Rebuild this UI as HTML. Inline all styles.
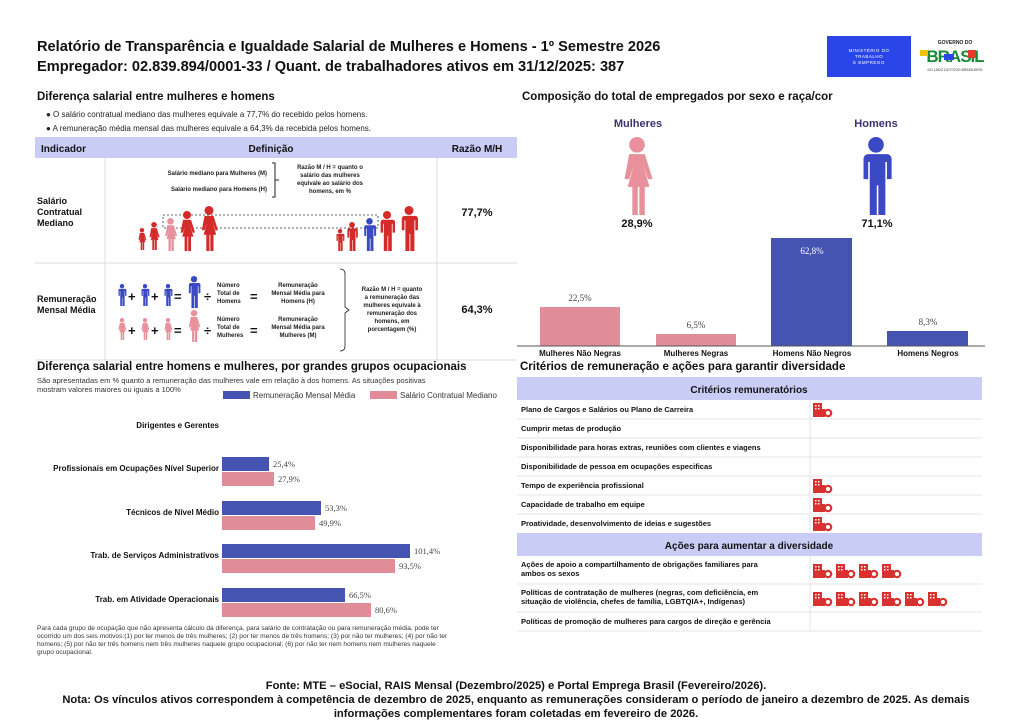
<!DOCTYPE html>
<html><head><meta charset="utf-8"><style>
html,body{margin:0;padding:0;background:#fff}
svg{display:block;font-family:"Liberation Sans",Arial,sans-serif}
</style></head><body>
<svg width="1024" height="724" viewBox="0 0 1024 724" xmlns="http://www.w3.org/2000/svg">
<defs>
<symbol id="man" viewBox="0 0 20 50"><circle cx="10" cy="5" r="5"/><path d="M3,11 h14 a3,3 0 0 1 3,3 v13 h-3 v-11 h-1 v34 h-4.5 v-19 h-1 v19 h-4.5 v-34 h-1 v11 h-3 v-13 a3,3 0 0 1 3,-3z"/></symbol>
<symbol id="woman" viewBox="0 0 20 50"><circle cx="10" cy="5" r="5"/><path d="M5,11 h10 l5,16 h-3 l-3,-9 l4,14 h-3 v18 h-3.5 v-18 h-1 v18 h-3.5 v-18 h-3 l4,-14 l-3,9 h-3z"/></symbol>
<g id="ico"><rect x="0" y="0" width="9" height="14" fill="#d93030"/><rect x="2" y="2" width="1.5" height="1.5" fill="#fff"/><rect x="5" y="2" width="1.5" height="1.5" fill="#fff"/><rect x="2" y="5" width="1.5" height="1.5" fill="#fff"/><rect x="5" y="5" width="1.5" height="1.5" fill="#fff"/><rect x="9" y="6" width="3" height="8" fill="#d93030"/><circle cx="15" cy="10" r="3.2" fill="none" stroke="#d93030" stroke-width="2.2"/></g>
</defs>
<!-- header -->
<text x="37" y="51" font-size="14.6" font-weight="bold" fill="#111">Relatório de Transparência e Igualdade Salarial de Mulheres e Homens - 1º Semestre 2026</text>
<text x="37" y="71" font-size="14.6" font-weight="bold" fill="#111">Empregador: 02.839.894/0001-33 / Quant. de trabalhadores ativos em 31/12/2025: 387</text>
<rect x="827" y="36" width="84" height="41" fill="#2a46e8"/>
<text x="869" y="52" font-size="4.5" fill="#fff" text-anchor="middle" letter-spacing="0.5">MINISTÉRIO DO</text>
<text x="869" y="58" font-size="4.5" fill="#fff" text-anchor="middle" letter-spacing="0.5">TRABALHO</text>
<text x="869" y="64" font-size="4.5" fill="#fff" text-anchor="middle" letter-spacing="0.5">E EMPREGO</text>
<text x="955" y="44" font-size="5" font-weight="bold" fill="#222" text-anchor="middle">GOVERNO DO</text>
<text x="955" y="62" font-size="17" font-weight="bold" fill="#1a8a3a" text-anchor="middle" letter-spacing="-1">BRASIL</text>
<rect x="920" y="50" width="8" height="6" fill="#f2c200"/><rect x="944" y="54" width="10" height="6" fill="#2a46e8"/><rect x="968" y="50" width="8" height="8" fill="#e63a2a"/>
<text x="955" y="71" font-size="3.5" fill="#333" text-anchor="middle">DO LADO DO POVO BRASILEIRO</text>

<!-- left top -->
<text x="37" y="100" font-size="11.5" font-weight="bold" fill="#111">Diferença salarial entre mulheres e homens</text>
<text x="46" y="117" font-size="8" fill="#222">● O salário contratual mediano das mulheres equivale a 77,7% do recebido pelos homens.</text>
<text x="46" y="131" font-size="8" fill="#222">● A remuneração média mensal das mulheres equivale a 64,3% da recebida pelos homens.</text>
<rect x="35" y="137" width="482" height="21" fill="#c9cdf6"/>
<text x="41" y="152" font-size="10" font-weight="bold" fill="#111">Indicador</text>
<text x="271" y="152" font-size="10" font-weight="bold" fill="#111" text-anchor="middle">Definição</text>
<text x="477" y="152" font-size="10" font-weight="bold" fill="#111" text-anchor="middle">Razão M/H</text>
<g stroke="#ddd" stroke-width="1"><line x1="35" y1="263" x2="517" y2="263"/><line x1="35" y1="360" x2="517" y2="360"/><line x1="105" y1="158" x2="105" y2="360"/><line x1="437" y1="158" x2="437" y2="360"/></g>
<text font-size="9" font-weight="bold" fill="#111"><tspan x="37" y="204">Salário</tspan><tspan x="37" y="215">Contratual</tspan><tspan x="37" y="226">Mediano</tspan></text>
<text font-size="9" font-weight="bold" fill="#111"><tspan x="37" y="302">Remuneração</tspan><tspan x="37" y="313">Mensal Média</tspan></text>
<text x="477" y="216" font-size="11" font-weight="bold" fill="#111" text-anchor="middle">77,7%</text>
<text x="477" y="313" font-size="11" font-weight="bold" fill="#111" text-anchor="middle">64,3%</text>
<text font-size="6" font-weight="bold" fill="#222" text-anchor="end"><tspan x="267" y="175">Salário mediano para Mulheres (M)</tspan><tspan x="267" y="191">Salário mediano para Homens (H)</tspan></text>
<path d="M272,163 h3 v34 h-3 M275,180 h4" stroke="#222" fill="none" stroke-width="1"/>
<text font-size="6" font-weight="bold" fill="#222" text-anchor="middle"><tspan x="330" y="169">Razão M / H = quanto o</tspan><tspan x="330" y="177">salário das mulheres</tspan><tspan x="330" y="185">equivale ao salário dos</tspan><tspan x="330" y="193">homens, em %</tspan></text>
<rect x="163" y="215" width="215" height="13" fill="none" stroke="#333" stroke-dasharray="2,2" stroke-width="0.8"/>
<use href="#woman" x="137" y="228" width="10" height="22" fill="#d42a2a"/>
<use href="#woman" x="148" y="222" width="12" height="28" fill="#d42a2a"/>
<use href="#woman" x="163" y="218" width="15" height="33" fill="#e8909c"/>
<use href="#woman" x="178" y="211" width="18" height="40" fill="#d42a2a"/>
<use href="#woman" x="198" y="206" width="22" height="45" fill="#d42a2a"/>
<use href="#man" x="335" y="229" width="10" height="22" fill="#d42a2a"/>
<use href="#man" x="346" y="222" width="12" height="29" fill="#d42a2a"/>
<use href="#man" x="362" y="218" width="15" height="33" fill="#3b49c4"/>
<use href="#man" x="378" y="211" width="18" height="40" fill="#d42a2a"/>
<use href="#man" x="398" y="206" width="22" height="45" fill="#d42a2a"/>
<!-- row2 -->
<g fill="#3b49c4"><use href="#man" x="117" y="284" width="10" height="22"/><use href="#man" x="140" y="284" width="10" height="22"/><use href="#man" x="163" y="284" width="10" height="22"/><use href="#man" x="186" y="276" width="16" height="32"/></g>
<g fill="#e8909c"><use href="#woman" x="117" y="318" width="10" height="22"/><use href="#woman" x="140" y="318" width="10" height="22"/><use href="#woman" x="163" y="318" width="10" height="22"/><use href="#woman" x="186" y="310" width="16" height="32"/></g>
<g font-size="13" font-weight="bold" fill="#111"><text x="128" y="301">+</text><text x="151" y="301">+</text><text x="174" y="301">=</text><text x="128" y="335">+</text><text x="151" y="335">+</text><text x="174" y="335">=</text><text x="204" y="301">÷</text><text x="204" y="335">÷</text><text x="250" y="301">=</text><text x="250" y="335">=</text></g>
<text font-size="6" font-weight="bold" fill="#222"><tspan x="217" y="287">Número</tspan><tspan x="217" y="295">Total de</tspan><tspan x="217" y="303">Homens</tspan><tspan x="217" y="321">Número</tspan><tspan x="217" y="329">Total de</tspan><tspan x="217" y="337">Mulheres</tspan></text>
<text font-size="6" font-weight="bold" fill="#222" text-anchor="middle"><tspan x="298" y="287">Remuneração</tspan><tspan x="298" y="295">Mensal Média para</tspan><tspan x="298" y="303">Homens (H)</tspan><tspan x="298" y="321">Remuneração</tspan><tspan x="298" y="329">Mensal Média para</tspan><tspan x="298" y="337">Mulheres (M)</tspan></text>
<path d="M340,269 q5,0 5,5 v33 l4,3 l-4,3 v33 q0,5 -5,5" stroke="#222" fill="none" stroke-width="0.8"/>
<text font-size="6" font-weight="bold" fill="#222" text-anchor="middle"><tspan x="392" y="291">Razão M / H = quanto</tspan><tspan x="392" y="299">a remuneração das</tspan><tspan x="392" y="307">mulheres equivale à</tspan><tspan x="392" y="315">remuneração dos</tspan><tspan x="392" y="323">homens, em</tspan><tspan x="392" y="331">porcentagem (%)</tspan></text>

<!-- right top -->
<text x="522" y="100" font-size="11.5" font-weight="bold" fill="#111">Composição do total de empregados por sexo e raça/cor</text>
<text x="638" y="127" font-size="11" font-weight="bold" fill="#3a3270" text-anchor="middle">Mulheres</text>
<text x="876" y="127" font-size="11" font-weight="bold" fill="#3a3270" text-anchor="middle">Homens</text>
<use href="#woman" x="614" y="137" width="46" height="78" fill="#e8909c"/>
<use href="#man" x="853" y="137" width="46" height="78" fill="#3b49c4"/>
<text x="637" y="227" font-size="11" font-weight="bold" fill="#111" text-anchor="middle">28,9%</text>
<text x="877" y="227" font-size="11" font-weight="bold" fill="#111" text-anchor="middle">71,1%</text>
<rect x="540" y="307" width="80" height="39" fill="#e08c99"/>
<rect x="656" y="334" width="80" height="12" fill="#e08c99"/>
<rect x="771" y="238" width="81" height="108" fill="#4554b0"/>
<rect x="887" y="331" width="81" height="15" fill="#4554b0"/>
<line x1="517" y1="346" x2="985" y2="346" stroke="#555" stroke-width="1"/>
<g font-family="Liberation Serif,serif" font-size="9" fill="#444" text-anchor="middle"><text x="580" y="301">22,5%</text><text x="696" y="328">6,5%</text><text x="812" y="254" fill="#fff">62,8%</text><text x="928" y="325">8,3%</text></g>
<g font-size="8" font-weight="bold" fill="#111" text-anchor="middle"><text x="580" y="356">Mulheres Não Negras</text><text x="696" y="356">Mulheres Negras</text><text x="812" y="356">Homens Não Negros</text><text x="928" y="356">Homens Negros</text></g>

<!-- left bottom -->
<text x="37" y="370" font-size="11.5" font-weight="bold" fill="#111">Diferença salarial entre homens e mulheres, por grandes grupos ocupacionais</text>
<text font-size="7.5" fill="#333"><tspan x="37" y="383">São apresentadas em % quanto a remuneração das mulheres vale em relação à dos homens. As situações positivas</tspan><tspan x="37" y="392">mostram valores maiores ou iguais a 100%</tspan></text>
<rect x="223" y="391" width="27" height="8" fill="#4554b0"/><text x="253" y="398" font-size="8" fill="#333">Remuneração Mensal Média</text>
<rect x="370" y="391" width="27" height="8" fill="#e08c99"/><text x="400" y="398" font-size="8" fill="#333">Salário Contratual Mediano</text>
<g font-size="8" font-weight="bold" fill="#111" text-anchor="end"><text x="219" y="428">Dirigentes e Gerentes</text><text x="219" y="471">Profissionais em Ocupações Nível Superior</text><text x="219" y="515">Técnicos de Nível Médio</text><text x="219" y="558">Trab. de Serviços Administrativos</text><text x="219" y="602">Trab. em Atividade Operacionais</text></g>
<g fill="#4554b0"><rect x="222" y="457" width="47" height="14"/><rect x="222" y="501" width="99" height="14"/><rect x="222" y="544" width="188" height="14"/><rect x="222" y="588" width="123" height="14"/></g>
<g fill="#e08c99"><rect x="222" y="472" width="52" height="14"/><rect x="222" y="516" width="93" height="14"/><rect x="222" y="559" width="173" height="14"/><rect x="222" y="603" width="149" height="14"/></g>
<g font-family="Liberation Serif,serif" font-size="8.5" fill="#444"><text x="273" y="467">25,4%</text><text x="278" y="482">27,9%</text><text x="325" y="511">53,3%</text><text x="319" y="526">49,9%</text><text x="414" y="554">101,4%</text><text x="399" y="569">93,5%</text><text x="349" y="598">66,5%</text><text x="375" y="613">80,6%</text></g>
<text font-size="6.6" fill="#333"><tspan x="37" y="630">Para cada grupo de ocupação que não apresenta cálculo da diferença, para salário de contratação ou para remuneração média, pode ter</tspan><tspan x="37" y="638">ocorrido um dos seis motivos:(1) por ter menos de três mulheres; (2) por ter menos de três homens; (3) por não ter mulheres; (4) por não ter</tspan><tspan x="37" y="646">homens; (5) por não ter três homens nem três mulheres naquele grupo ocupacional; (6) por não ter nem homens nem mulheres naquele</tspan><tspan x="37" y="654">grupo ocupacional.</tspan></text>

<!-- right bottom -->
<text x="520" y="370" font-size="11.5" font-weight="bold" fill="#111">Critérios de remuneração e ações para garantir diversidade</text>
<rect x="517" y="377" width="465" height="23" fill="#c9cdf6"/>
<text x="749" y="393" font-size="10" font-weight="bold" fill="#111" text-anchor="middle">Critérios remuneratórios</text>
<rect x="517" y="533" width="465" height="23" fill="#c9cdf6"/>
<text x="749" y="549" font-size="10" font-weight="bold" fill="#111" text-anchor="middle">Ações para aumentar a diversidade</text>
<g stroke="#e4e4e4" stroke-width="1"><line x1="517" y1="419" x2="982" y2="419"/><line x1="517" y1="438" x2="982" y2="438"/><line x1="517" y1="457" x2="982" y2="457"/><line x1="517" y1="476" x2="982" y2="476"/><line x1="517" y1="495" x2="982" y2="495"/><line x1="517" y1="514" x2="982" y2="514"/><line x1="517" y1="584" x2="982" y2="584"/><line x1="517" y1="612" x2="982" y2="612"/><line x1="517" y1="631" x2="982" y2="631"/><line x1="810" y1="400" x2="810" y2="533"/><line x1="810" y1="556" x2="810" y2="631"/></g>
<g font-size="7.5" font-weight="bold" fill="#111"><text x="521" y="412">Plano de Cargos e Salários ou Plano de Carreira</text><text x="521" y="431">Cumprir metas de produção</text><text x="521" y="450">Disponibilidade para horas extras, reuniões com clientes e viagens</text><text x="521" y="469">Disponibilidade de pessoa em ocupações especificas</text><text x="521" y="488">Tempo de experiência profissional</text><text x="521" y="507">Capacidade de trabalho em equipe</text><text x="521" y="526">Proatividade, desenvolvimento de ideias e sugestões</text><text x="521" y="567">Ações de apoio a compartilhamento de obrigações familiares para</text><text x="521" y="576">ambos os sexos</text><text x="521" y="595">Políticas de contratação de mulheres (negras, com deficiência, em</text><text x="521" y="604">situação de violência, chefes de família, LGBTQIA+, Indígenas)</text><text x="521" y="624">Políticas de promoção de mulheres para cargos de direção e gerência</text></g>
<use href="#ico" x="813" y="403"/><use href="#ico" x="813" y="479"/><use href="#ico" x="813" y="498"/><use href="#ico" x="813" y="517"/>
<use href="#ico" x="813" y="564"/><use href="#ico" x="836" y="564"/><use href="#ico" x="859" y="564"/><use href="#ico" x="882" y="564"/>
<use href="#ico" x="813" y="592"/><use href="#ico" x="836" y="592"/><use href="#ico" x="859" y="592"/><use href="#ico" x="882" y="592"/><use href="#ico" x="905" y="592"/><use href="#ico" x="928" y="592"/>

<!-- footer -->
<g font-size="11.2" font-weight="bold" fill="#111" text-anchor="middle"><text x="516" y="689">Fonte: MTE – eSocial, RAIS Mensal (Dezembro/2025) e Portal Emprega Brasil (Fevereiro/2026).</text><text x="516" y="703">Nota: Os vínculos ativos correspondem à competência de dezembro de 2025, enquanto as remunerações consideram o período de janeiro a dezembro de 2025. As demais</text><text x="516" y="717">informações complementares foram coletadas em fevereiro de 2026.</text></g>
</svg>
</body></html>
